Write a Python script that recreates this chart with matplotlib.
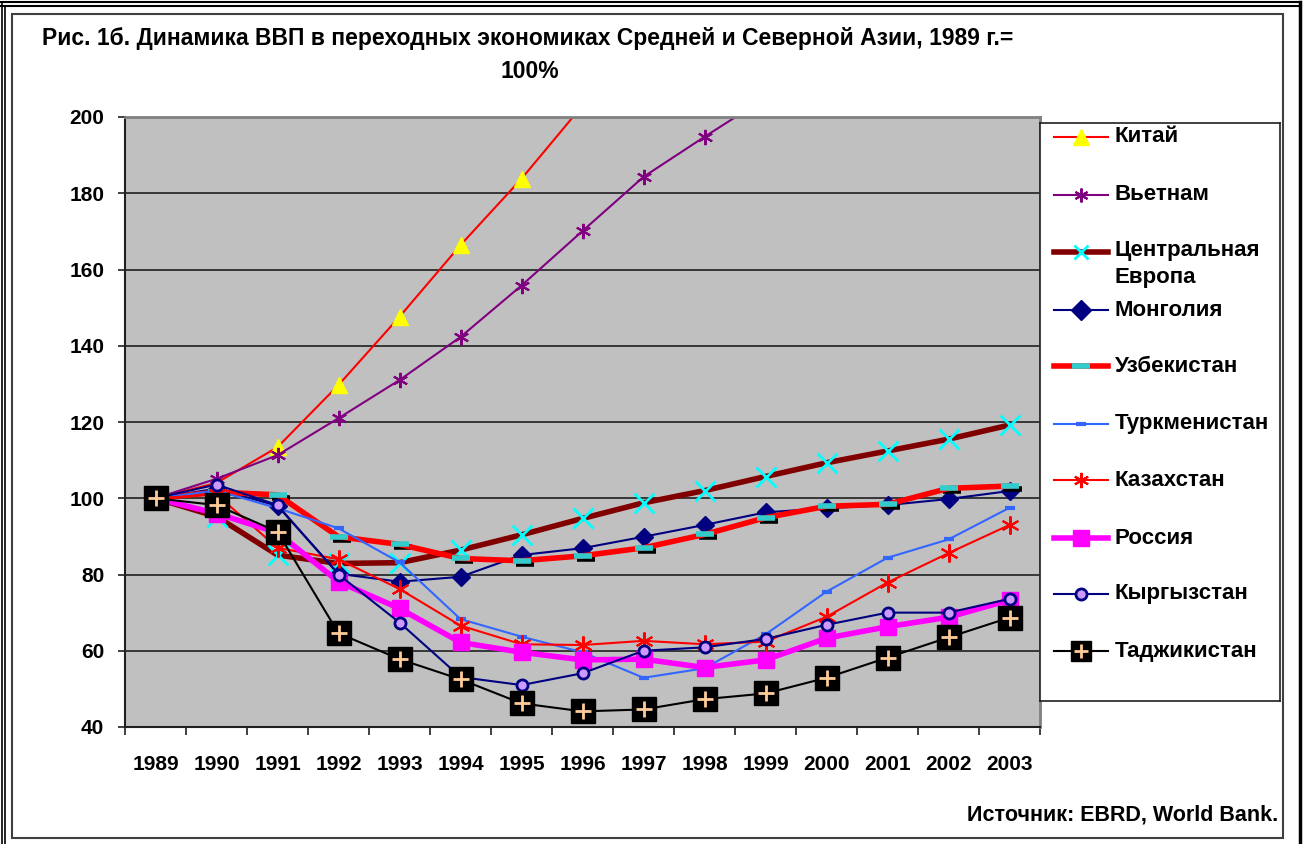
import numpy as np
import matplotlib
matplotlib.use("Agg")
import matplotlib.pyplot as plt
from matplotlib.lines import Line2D
from matplotlib.patches import Rectangle
from matplotlib.transforms import offset_copy

plt.rcParams['font.family'] = ['Liberation Sans', 'DejaVu Sans']
plt.rcParams['font.weight'] = 'bold'

W, H = 1308, 844
nan = np.nan

years = ['1989', '1990', '1991', '1992', '1993', '1994', '1995', '1996',
         '1997', '1998', '1999', '2000', '2001', '2002', '2003']

# GDP index, 1989 = 100
china = [100, 104, 113.4, 129.7, 147.6, 166.4, 183.8, 203, nan, nan, nan, nan, nan, nan, nan]
vietnam = [100, 105.1, 111.3, 121.0, 131.0, 142.3, 155.8, 170.1, 184.3, 194.8, 205, nan, nan, nan, nan]
central_europe = [100, 95.2, 85.1, 82.9, 83.1, 86.4, 90.4, 94.7, 98.8, 102.0, 105.7, 109.3, 112.4, 115.5, 119.2]
mongolia = [100, 102.5, 98.0, 80.2, 78.1, 79.4, 85.1, 86.9, 89.9, 93.0, 96.3, 97.4, 98.2, 99.8, 101.9]
uzbekistan = [100, 101.6, 100.9, 89.9, 87.9, 84.2, 83.6, 84.9, 87.0, 90.5, 94.9, 97.9, 98.4, 102.6, 103.2]
turkmenistan = [100, 102.0, 97.4, 92.1, 83.2, 68.3, 63.7, 59.6, 52.9, 55.4, 64.3, 75.5, 84.4, 89.2, 97.5]
kazakhstan = [100, 101.0, 87.0, 84.0, 76.2, 66.6, 61.7, 61.5, 62.6, 61.7, 62.4, 68.9, 77.9, 85.6, 93.0]
russia = [100, 96.0, 91.0, 78.1, 71.1, 62.2, 59.6, 57.6, 57.8, 55.6, 57.6, 63.3, 66.3, 68.8, 73.3]
kyrgyzstan = [100, 103.6, 98.2, 80.0, 67.4, 53.1, 51.0, 54.1, 60.0, 60.9, 63.1, 66.8, 70.0, 70.0, 73.6]
tajikistan = [100, 98.2, 91.2, 64.6, 57.8, 52.5, 46.2, 44.1, 44.6, 47.3, 48.8, 52.9, 58.2, 63.5, 68.7]

labels = ['Китай', 'Вьетнам', 'Центральная\nЕвропа', 'Монголия', 'Узбекистан',
          'Туркменистан', 'Казахстан', 'Россия', 'Кыргызстан', 'Таджикистан']
series = [china, vietnam, central_europe, mongolia, uzbekistan,
          turkmenistan, kazakhstan, russia, kyrgyzstan, tajikistan]

asterisk = (6, 2, 0)
styles = [
    dict(color='#FF0000', lw=1.5, marker='^', ms=11, mfc='#FFFF00', mec='#FFFF00'),
    dict(color='#800080', lw=1.5, marker=asterisk, ms=11, mfc='#800080', mec='#800080', mew=1.5),
    dict(color='#800000', lw=4, marker='x', ms=14, mfc='#00FFFF', mec='#00FFFF', mew=2),
    dict(color='#000080', lw=1.5, marker='D', ms=9, mfc='#000080', mec='#000080'),
    dict(color='#FF0000', lw=4, marker='_', ms=13, mfc='#33CCCC', mec='#33CCCC', mew=4),
    dict(color='#3366FF', lw=1.5, marker='_', ms=7, mfc='#3366FF', mec='#3366FF', mew=3),
    dict(color='#FF0000', lw=1.5, marker=asterisk, ms=13, mfc='#FF0000', mec='#FF0000', mew=1.5),
    dict(color='#FF00FF', lw=4, marker='s', ms=11, mfc='#FF00FF', mec='#FF00FF'),
    dict(color='#000080', lw=1.5, marker='o', ms=8, mfc='#CC99FF', mec='#000080', mew=2),
    dict(color='#000000', lw=1.5, marker='s', ms=17, mfc='#000000', mec='#000000'),
]
# smaller marker sizes used in the legend box
legend_ms = [12, 10, 10, 10, 13, 7, 11, 11, 8, 15]
# extra marks drawn with the base marker: (marker, size, colour, width, dx, dy, behind)
extras = {
    4: ('_', 13, '#000000', 4, 3, -3, True),
    9: ('+', 12, '#FFCC99', 2, 0, 0, False),
}


def px(x, y):
    return x / W, 1 - y / H


fig = plt.figure(figsize=(W / 100, H / 100), dpi=100)

# frames around the figure
for y in (1.5, 6):
    fig.add_artist(Line2D([0, 1301 / W], [1 - y / H] * 2, color='black', lw=1.5))
for x in (1.5, 5.5):
    fig.add_artist(Line2D([x / W] * 2, [0, 1 - (1.5 if x < 3 else 6) / H], color='black', lw=1.2))
fig.add_artist(Line2D([1299.5 / W] * 2, [0, 1 - 1.5 / H], color='black', lw=2.5))
x0, y0 = px(12, 838)
x1, y1 = px(1283, 14)
fig.add_artist(Rectangle((x0, y0), x1 - x0, y1 - y0, fill=False, ec='#404040', lw=1.5))

left, right, top, bottom = 125, 1040, 117, 727
ax = fig.add_axes([left / W, 1 - bottom / H, (right - left) / W, (bottom - top) / H])
ax.set_facecolor('#C0C0C0')

x = np.arange(len(years))
for i, (vals, st) in enumerate(zip(series, styles)):
    if i in extras and extras[i][6]:
        m, s, c, w, dx, dy, _ = extras[i]
        tr = offset_copy(ax.transData, fig=fig, x=dx, y=dy, units='dots')
        ax.plot(x, vals, ls='none', marker=m, ms=s, mec=c, mfc=c, mew=w, transform=tr,
                zorder=2 + i * 0.1)
    ax.plot(x, vals, zorder=2 + i * 0.1 + 0.01, **st)
    if i in extras and not extras[i][6]:
        m, s, c, w, dx, dy, _ = extras[i]
        ax.plot(x, vals, ls='none', marker=m, ms=s, mec=c, mfc=c, mew=w, zorder=2 + i * 0.1 + 0.02)

ax.set_xlim(-0.5, len(years) - 0.5)
ax.set_ylim(40, 200)
ax.set_yticks(np.arange(40, 201, 20))
ax.yaxis.grid(True, color='#202020', lw=1.2)
ax.set_axisbelow(True)
ax.set_xticks(np.arange(-0.5, len(years), 1))
ax.set_xticklabels([])
ax.set_xticks(x, minor=True)
ax.set_xticklabels(years, minor=True)
ax.tick_params(axis='x', which='major', direction='out', length=6, width=1.2, color='#202020')
ax.tick_params(axis='x', which='minor', length=0, pad=20, labelsize=15)
ax.tick_params(axis='y', direction='out', length=5, width=1.2, color='#202020', pad=10, labelsize=15)
for lab in ax.get_xticklabels(minor=True) + ax.get_yticklabels():
    lab.set_fontweight('bold')
ax.spines['left'].set_color('#202020')
ax.spines['bottom'].set_color('#202020')
ax.spines['left'].set_linewidth(1.5)
ax.spines['bottom'].set_linewidth(1.5)
ax.spines['top'].set_color('#808080')
ax.spines['right'].set_color('#808080')
ax.spines['top'].set_linewidth(2)
ax.spines['right'].set_linewidth(2)

# legend box drawn by hand
lx0, ly0 = px(1040, 701)
lx1, ly1 = px(1280, 123)
lax = fig.add_axes([lx0, ly0, lx1 - lx0, ly1 - ly0])
lax.set_xlim(1040, 1280)
lax.set_ylim(701, 123)
lax.set_xticks([])
lax.set_yticks([])
for sp in lax.spines.values():
    sp.set_linewidth(1.2)
    sp.set_color('#202020')
entry_y = [137, 195, 252, 310, 366, 424, 480, 538, 594, 651]
for i, (lab, st, ey) in enumerate(zip(labels, styles, entry_y)):
    line_st = {k: v for k, v in st.items() if k not in ('marker', 'ms', 'mfc', 'mec', 'mew')}
    mark_st = {k: v for k, v in st.items() if k in ('marker', 'mfc', 'mec', 'mew')}
    lax.plot([1054, 1108], [ey, ey], **line_st)
    lax.plot([1081], [ey], ls='none', ms=legend_ms[i], **mark_st)
    if i in extras and not extras[i][6]:
        m, s, c, w, dx, dy, _ = extras[i]
        lax.plot([1081], [ey], ls='none', marker=m, ms=legend_ms[i] * 0.7, mec=c, mfc=c, mew=w)
    if '\n' in lab:
        lax.text(1115, ey - 12, lab, ha='left', va='top', fontsize=16,
                 fontweight='bold', linespacing=1.4)
    else:
        lax.text(1115, ey, lab, ha='left', va='center', fontsize=16, fontweight='bold')

tx, ty = px(528, 39)
fig.text(tx, ty, 'Рис. 1б. Динамика ВВП в переходных экономиках Средней и Северной Азии, 1989 г.=',
         ha='center', va='center', fontsize=16.5, fontweight='bold')
tx, ty = px(530, 71)
fig.text(tx, ty, '100%', ha='center', va='center', fontsize=16.5, fontweight='bold')
tx, ty = px(1278, 815)
fig.text(tx, ty, 'Источник: EBRD, World Bank.', ha='right', va='center', fontsize=15.5, fontweight='bold')

fig.savefig('out.png', dpi=100)
